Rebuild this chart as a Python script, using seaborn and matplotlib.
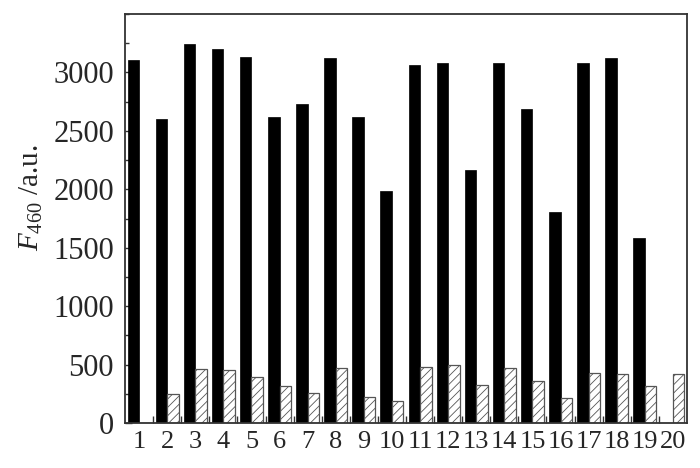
import matplotlib
matplotlib.use('Agg')
import matplotlib.pyplot as plt
from matplotlib.ticker import MultipleLocator, FixedLocator
import pandas as pd
import seaborn as sns

# data
samples = [str(i) for i in range(1, 21)]
f460_before = [3105, 2605, 3240, 3200, 3130, 2615, 2730, 3128, 2622, 1983,
               3068, 3084, 2168, 3077, 2684, 1803, 3083, 3123, 1585, 0]
f460_after = [0, 251, 462, 450, 393, 320, 260, 470, 226, 191,
              479, 499, 328, 474, 359, 210, 427, 416, 314, 416]
y_ticks = [0, 500, 1000, 1500, 2000, 2500, 3000]

df = pd.DataFrame({
    'sample': samples * 2,
    'F460': f460_before + f460_after,
    'series': ['before'] * 20 + ['after'] * 20,
})

sns.set_style('ticks')
plt.rcParams['font.family'] = 'serif'
plt.rcParams['font.serif'] = ['Liberation Serif', 'DejaVu Serif']
plt.rcParams['mathtext.fontset'] = 'custom'
plt.rcParams['mathtext.rm'] = 'Liberation Serif'
plt.rcParams['mathtext.it'] = 'Liberation Serif:italic'
plt.rcParams['hatch.linewidth'] = 0.6

fig = plt.figure(figsize=(7, 4.68), dpi=100)
ax = fig.add_axes([0.1786, 0.0962, 0.8028, 0.8738])

sns.barplot(data=df, x='sample', y='F460', hue='series', order=samples,
            hue_order=['before', 'after'], palette=['black', 'white'],
            width=0.82, saturation=1, legend=False, ax=ax)

n = len(samples)
for i, p in enumerate(ax.patches):
    if i < n:
        p.set_facecolor('black')
        p.set_edgecolor('black')
        p.set_linewidth(0.5)
    else:
        p.set_facecolor('white')
        p.set_edgecolor('#555555')
        p.set_linewidth(0.9)
        p.set_hatch('////')

ax.set_xlim(-0.5, n - 0.5)
ax.set_ylim(0, 3500)
ax.set_yticks(y_ticks)
ax.yaxis.set_minor_locator(MultipleLocator(250))
ax.xaxis.set_minor_locator(FixedLocator([i + 0.5 for i in range(n - 1)]))

ax.tick_params(axis='y', which='major', direction='in', length=5, width=1,
               labelsize=22, pad=8, color='#333333')
ax.tick_params(axis='y', which='minor', direction='in', length=3, width=1,
               color='#333333')
ax.tick_params(axis='x', which='major', length=0, labelsize=19, pad=6)
ax.tick_params(axis='x', which='minor', direction='in', length=5, width=1,
               color='#333333')
for lab in ax.get_xticklabels() + ax.get_yticklabels():
    lab.set_fontfamily('Liberation Serif')

for s in ax.spines.values():
    s.set_visible(True)
    s.set_linewidth(1.3)
    s.set_color('#333333')

ax.set_xlabel('')
ax.set_ylabel(r'$\mathit{F}_{460}$ /a.u.', fontsize=21,
              fontfamily='Liberation Serif')
ax.yaxis.set_label_coords(-0.142, 0.55)

fig.savefig('out.png', dpi=100)
